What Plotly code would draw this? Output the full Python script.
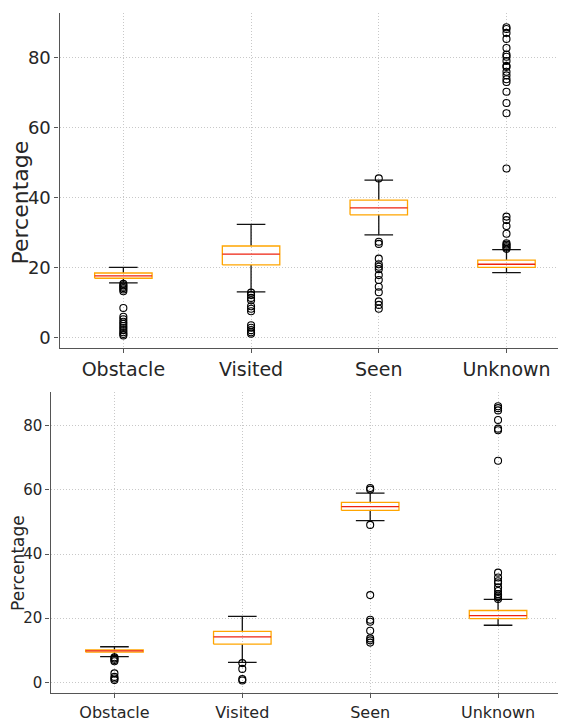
import plotly.graph_objects as go

# ---------------- data ----------------
categories = ["Obstacle", "Visited", "Seen", "Unknown"]

# top panel
top_q1 = [17.0, 20.8, 35.1, 20.1]
top_median = [17.7, 23.9, 37.1, 21.0]
top_q3 = [18.5, 26.2, 39.3, 22.2]
top_low = [15.7, 13.1, 29.4, 18.6]
top_high = [20.1, 32.4, 45.0, 25.2]
top_out_obstacle = [15.4, 15.0, 14.6, 14.2, 13.8, 13.3, 8.5, 6.0, 5.3, 4.6, 4.0, 3.4, 2.8, 2.2, 1.6, 1.1, 0.7]
top_out_visited = [12.9, 12.2, 11.4, 10.7, 9.0, 8.3, 7.6, 3.6, 2.9, 2.2, 1.6, 1.2]
top_out_seen = [45.5, 27.4, 26.8, 22.6, 21.0, 20.3, 19.6, 17.9, 16.5, 14.6, 13.0, 10.4, 9.4, 8.3]
top_out_unknown = [25.4, 25.8, 26.2, 26.6, 27.0, 29.7, 31.9, 33.6, 34.6, 48.3, 64.1, 67.0, 70.2,
                   73.0, 73.8, 74.9, 75.9, 77.3, 77.6, 79.0, 80.2, 80.8, 82.7, 85.3, 87.0, 88.1, 88.6]

# bottom panel
bot_q1 = [9.4, 11.9, 53.6, 19.9]
bot_median = [9.8, 14.2, 54.8, 20.8]
bot_q3 = [10.1, 15.9, 56.1, 22.4]
bot_low = [8.0, 6.2, 50.4, 17.8]
bot_high = [11.1, 20.6, 59.0, 25.9]
bot_out_obstacle = [7.8, 7.4, 7.0, 6.6, 2.8, 1.7, 1.2, 0.7]
bot_out_visited = [6.0, 4.2, 1.0, 0.6]
bot_out_seen = [60.6, 60.1, 49.1, 27.2, 19.5, 18.9, 16.1, 13.7, 13.1, 12.4]
bot_out_unknown = [26.0, 26.5, 27.0, 27.5, 28.5, 29.6, 30.9, 31.5, 32.7, 34.2,
                   69.1, 78.6, 79.1, 81.8, 84.8, 85.5, 86.1]

y_ticks = [0, 20, 40, 60, 80]

# ---------------- styling ----------------
OFF = 8  # page body margin
W, H = 566 - OFF, 722 - OFF
BOX_HALF = 0.225
CAP_HALF = 0.112
BOX_COLOR = "#FFA500"
MED_COLOR = "#EE2211"
WHISK_COLOR = "#111111"
TXT = "#262626"
FONT = "DejaVu Sans"

fig = go.Figure()


def add_panel(xa, ya, q1, med, q3, low, high, outs, msize):
    positions = list(range(1, len(categories) + 1))
    wx, wy, bx, by, mx, my = [], [], [], [], [], []
    for p, a, m, b, lo, hi in zip(positions, q1, med, q3, low, high):
        wx += [p, p, None, p - CAP_HALF, p + CAP_HALF, None,
               p, p, None, p - CAP_HALF, p + CAP_HALF, None]
        wy += [lo, a, None, lo, lo, None, b, hi, None, hi, hi, None]
        bx += [p - BOX_HALF, p + BOX_HALF, p + BOX_HALF, p - BOX_HALF, p - BOX_HALF, None]
        by += [a, a, b, b, a, None]
        mx += [p - BOX_HALF, p + BOX_HALF, None]
        my += [m, m, None]
    fig.add_trace(go.Scatter(x=wx, y=wy, mode="lines", xaxis=xa, yaxis=ya,
                             line=dict(color=WHISK_COLOR, width=1.3), showlegend=False,
                             hoverinfo="skip"))
    fig.add_trace(go.Scatter(x=bx, y=by, mode="lines", xaxis=xa, yaxis=ya,
                             line=dict(color=BOX_COLOR, width=1.3), showlegend=False,
                             hoverinfo="skip"))
    fig.add_trace(go.Scatter(x=mx, y=my, mode="lines", xaxis=xa, yaxis=ya,
                             line=dict(color=MED_COLOR, width=1.3), showlegend=False,
                             hoverinfo="skip"))
    for p, o in zip(positions, outs):
        fig.add_trace(go.Scatter(x=[p] * len(o), y=o, mode="markers", xaxis=xa, yaxis=ya,
                                 marker=dict(symbol="circle-open", color="black", size=msize,
                                             line=dict(width=1.1)),
                                 showlegend=False))


add_panel("x", "y", top_q1, top_median, top_q3, top_low, top_high,
          [top_out_obstacle, top_out_visited, top_out_seen, top_out_unknown], 7)
add_panel("x2", "y2", bot_q1, bot_median, bot_q3, bot_low, bot_high,
          [bot_out_obstacle, bot_out_visited, bot_out_seen, bot_out_unknown], 7)

positions = list(range(1, len(categories) + 1))


def px_x(v):
    return (v - OFF) / W


def px_y(v):
    return 1 - (v - OFF) / H


grid = dict(showgrid=True, gridcolor="#c8c8c8", gridwidth=0.8, griddash="1px,2px",
            zeroline=False, showline=True, linecolor="#555555", linewidth=1.2,
            ticks="outside", ticklen=4, tickcolor="#555555")

fig.update_layout(
    width=W, height=H,
    margin=dict(l=0, r=0, t=0, b=0),
    paper_bgcolor="white", plot_bgcolor="white",
    font=dict(family=FONT, color=TXT),
    xaxis=dict(domain=[px_x(59.5), 1.0], range=[0.5, 4.466], anchor="y",
               tickmode="array", tickvals=positions, ticktext=categories,
               tickfont=dict(size=19, family=FONT, color=TXT), **grid),
    yaxis=dict(domain=[px_y(352), px_y(13)], range=[-2.8, 92.7], anchor="x",
               tickmode="array", tickvals=y_ticks,
               tickfont=dict(size=18, family=FONT, color=TXT), **grid),
    xaxis2=dict(domain=[px_x(50.5), px_x(562)], range=[0.5, 4.5], anchor="y2",
                tickmode="array", tickvals=positions, ticktext=categories,
                tickfont=dict(size=16, family=FONT, color=TXT), **grid),
    yaxis2=dict(domain=[px_y(702), px_y(397)], range=[-3.4, 90.5], anchor="x2",
                tickmode="array", tickvals=y_ticks,
                tickfont=dict(size=15, family=FONT, color=TXT), **grid),
    annotations=[
        dict(text="Percentage", x=px_x(21), y=px_y(205), xref="paper", yref="paper",
             textangle=-90, showarrow=False, font=dict(size=22, family=FONT, color=TXT),
             xanchor="center", yanchor="middle"),
        dict(text="Percentage", x=px_x(18), y=px_y(570), xref="paper", yref="paper",
             textangle=-90, showarrow=False, font=dict(size=17, family=FONT, color=TXT),
             xanchor="center", yanchor="middle"),
    ],
)

fig.write_html("out.html")
